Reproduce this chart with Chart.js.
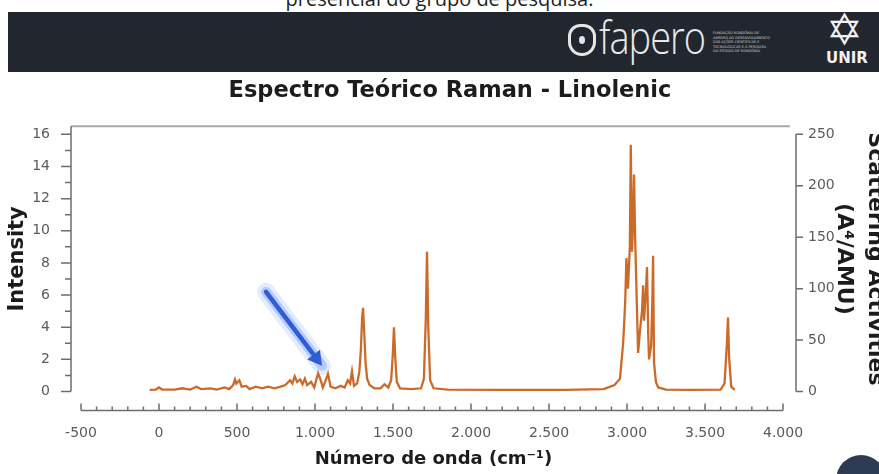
<!DOCTYPE html>
<html>
<head>
<meta charset="utf-8">
<script src="https://cdn.jsdelivr.net/npm/chart.js@4.4.1/dist/chart.umd.min.js"></script>
<style>
  html, body { margin:0; padding:0; width:879px; height:474px; overflow:hidden; background:#ffffff; }
  #caption { position:absolute; top:-11px; left:0; width:879px; text-align:center; font-family:"Open Sans", sans-serif; font-size:20px; line-height:20px; color:#222; }
  #bar { position:absolute; top:12px; left:8px; width:871px; height:60px; background:#22272f; }
  #fapIcon { position:absolute; left:568px; top:24px; width:28px; height:32px; border:3px solid #e6e6e6; border-radius:14px 14px 16px 16px; box-sizing:border-box; }
  #fapIcon::after { content:""; position:absolute; left:8px; top:9px; width:6px; height:8px; background:#e6e6e6; border-radius:50%; }
  #fapText { position:absolute; left:599px; top:14px; font-family:"Open Sans", sans-serif; font-weight:300; font-size:38px; line-height:44px; color:#e8e8e8; letter-spacing:-1px; transform:scaleY(1.2); transform-origin:0 50%; }
  #fapSmall { position:absolute; left:713px; top:31px; width:58px; font-family:"DejaVu Sans", sans-serif; font-size:3.5px; line-height:4.5px; color:#cfcfcf; }
  #unirStar { position:absolute; left:826px; top:8px; font-family:"DejaVu Sans", sans-serif; font-size:44px; line-height:44px; color:#f2f2f2; }
  #unirText { position:absolute; left:826px; top:49px; font-family:"DejaVu Sans", sans-serif; font-weight:bold; font-size:15px; line-height:18px; color:#f2f2f2; }
  #blob { position:absolute; left:836px; top:455px; width:50px; height:50px; border-radius:50%; background:#2c3a54; }
  #wrap { position:absolute; top:0; left:0; width:900px; height:474px; }
</style>
</head>
<body>
<div id="caption">presencial do grupo de pesquisa.</div>
<div id="bar"></div>
<div id="fapIcon"></div>
<div id="fapText">fapero</div>
<div id="fapSmall">FUNDAÇÃO RONDÔNIA DE AMPARO AO DESENVOLVIMENTO DAS AÇÕES CIENTÍFICAS E TECNOLÓGICAS E À PESQUISA DO ESTADO DE RONDÔNIA</div>
<div id="unirStar">✡</div>
<div id="unirText">UNIR</div>
<div id="blob"></div>
<div id="wrap"><canvas id="c" width="900" height="474"></canvas></div>
<script>
// ---- data ----
const wavenumbers = [
  -60, -20, 0, 20, 100, 150, 200, 240, 270, 330, 370, 420, 450, 475, 487, 495, 505, 515, 530, 560,
  580, 620, 660, 700, 740, 780, 810, 840, 855, 870, 885, 905, 920, 935, 950, 975, 995, 1020, 1040, 1050,
  1065, 1083, 1100, 1130, 1165, 1190, 1210, 1225, 1237, 1250, 1270, 1284, 1294, 1302, 1308, 1316, 1324, 1334, 1350, 1380, 1420, 1445,
  1470, 1488, 1498, 1506, 1514, 1524, 1545, 1620, 1680, 1698, 1710, 1718, 1726, 1738, 1760, 1850, 2200, 2600, 2850, 2920,
  2955, 2975, 2988, 2996, 3006, 3018, 3024, 3032, 3040, 3045, 3052, 3058, 3071, 3083, 3096, 3103, 3109, 3122, 3128, 3136,
  3141, 3154, 3162, 3167, 3173, 3185, 3200, 3250, 3400, 3600, 3625, 3640, 3647, 3655, 3668, 3690
];
const intensities = [
  0.10, 0.12, 0.25, 0.12, 0.12, 0.20, 0.12, 0.30, 0.15, 0.20, 0.12, 0.25, 0.15, 0.40, 0.75, 0.50, 0.60, 0.70, 0.30, 0.35,
  0.15, 0.30, 0.20, 0.30, 0.20, 0.30, 0.40, 0.70, 0.50, 0.95, 0.60, 0.75, 0.45, 0.80, 0.40, 0.60, 0.25, 1.15, 0.60, 0.25,
  0.60, 1.10, 0.30, 0.20, 0.35, 0.25, 0.70, 0.50, 1.25, 0.35, 0.50, 1.20, 2.60, 4.60, 5.20, 3.60, 1.80, 0.80, 0.40, 0.20, 0.20, 0.45,
  0.25, 0.70, 2.20, 4.00, 2.20, 0.60, 0.20, 0.15, 0.20, 0.80, 4.50, 8.70, 4.00, 0.70, 0.20, 0.12, 0.10, 0.10, 0.15, 0.40,
  0.80, 3.00, 5.50, 8.30, 6.40, 9.00, 15.35, 8.70, 11.0, 13.50, 9.50, 7.30, 2.40, 3.80, 5.00, 6.60, 4.40, 6.50, 7.75, 3.50,
  2.00, 2.80, 5.50, 8.45, 1.80, 0.60, 0.25, 0.12, 0.10, 0.12, 0.50, 3.00, 4.60, 2.00, 0.30, 0.10
];
const xTickValues = [-500, 0, 500, 1000, 1500, 2000, 2500, 3000, 3500, 4000];
const xMinorTickValues = [];
for (let v = -500; v <= 4000; v += 100) xMinorTickValues.push(v);
const yTickValues = [0, 2, 4, 6, 8, 10, 12, 14, 16];
const yMinorTickValues = [1, 3, 5, 7, 9, 11, 13, 15];
const y2TickValues = [0, 50, 100, 150, 200, 250];
const arrowFrom = [686, 6.2];
const arrowTo = [1045, 1.6];

const fmt = v => {
  const s = Math.abs(v).toString();
  const body = s.length > 3 ? s.slice(0, s.length - 3) + '.' + s.slice(s.length - 3) : s;
  return (v < 0 ? '-' : '') + body;
};

const axisColor = '#6e6e6e';
const tickFont = { family: 'DejaVu Sans', size: 14 };
const tickColor = '#5a5a60';

const axesPlugin = {
  id: 'customAxes',
  afterDraw(chart) {
    const { ctx, chartArea, scales: { x, y, y2 } } = chart;
    ctx.save();
    // top frame line
    ctx.strokeStyle = '#a8a8a8';
    ctx.lineWidth = 2;
    ctx.beginPath();
    ctx.moveTo(chartArea.left, chartArea.top);
    ctx.lineTo(chartArea.right - 6, chartArea.top);
    ctx.stroke();
    ctx.strokeStyle = axisColor;
    ctx.lineWidth = 1.5;
    // left axis
    const lx = chartArea.left;
    ctx.beginPath();
    ctx.moveTo(lx, chartArea.top);
    ctx.lineTo(lx, y.getPixelForValue(0));
    yTickValues.forEach(v => { const p = y.getPixelForValue(v); ctx.moveTo(lx, p); ctx.lineTo(lx - 10, p); });
    yMinorTickValues.forEach(v => { const p = y.getPixelForValue(v); ctx.moveTo(lx, p); ctx.lineTo(lx - 6, p); });
    ctx.stroke();
    // right axis
    const rx = chartArea.right;
    ctx.beginPath();
    ctx.moveTo(rx, y2.getPixelForValue(250));
    ctx.lineTo(rx, y2.getPixelForValue(0));
    y2TickValues.forEach(v => { const p = y2.getPixelForValue(v); ctx.moveTo(rx, p); ctx.lineTo(rx + 7, p); });
    ctx.stroke();
    // bottom (offset) axis
    const by = chartArea.bottom + 19;
    ctx.beginPath();
    ctx.moveTo(x.getPixelForValue(-500), by);
    ctx.lineTo(x.getPixelForValue(4000), by);
    xMinorTickValues.forEach(v => {
      const p = x.getPixelForValue(v);
      const len = (v % 500 === 0) ? 7 : 4;
      ctx.moveTo(p, by); ctx.lineTo(p, by - len);
    });
    ctx.stroke();
    ctx.restore();
  }
};

const arrowPlugin = {
  id: 'arrow',
  afterDatasetsDraw(chart) {
    const { ctx, scales: { x, y } } = chart;
    const x0 = x.getPixelForValue(arrowFrom[0]), y0 = y.getPixelForValue(arrowFrom[1]);
    const x1 = x.getPixelForValue(arrowTo[0]), y1 = y.getPixelForValue(arrowTo[1]);
    const ang = Math.atan2(y1 - y0, x1 - x0);
    const headLen = 14, headW = 8;
    const bx = x1 - headLen * Math.cos(ang), byy = y1 - headLen * Math.sin(ang);
    ctx.save();
    ctx.lineCap = 'round';
    ctx.strokeStyle = 'rgba(140,175,255,0.25)';
    ctx.lineWidth = 18;
    ctx.beginPath(); ctx.moveTo(x0, y0); ctx.lineTo(x1, y1); ctx.stroke();
    ctx.strokeStyle = 'rgba(110,150,250,0.40)';
    ctx.lineWidth = 10;
    ctx.beginPath(); ctx.moveTo(x0, y0); ctx.lineTo(x1, y1); ctx.stroke();
    ctx.strokeStyle = '#2d5fd3';
    ctx.lineWidth = 4.5;
    ctx.beginPath(); ctx.moveTo(x0, y0); ctx.lineTo(bx, byy); ctx.stroke();
    ctx.fillStyle = '#2d5fd3';
    ctx.beginPath();
    ctx.moveTo(x1, y1);
    ctx.lineTo(bx + headW * Math.sin(ang), byy - headW * Math.cos(ang));
    ctx.lineTo(bx - headW * Math.sin(ang), byy + headW * Math.cos(ang));
    ctx.closePath();
    ctx.fill();
    ctx.restore();
  }
};

const setTicks = (vals) => (scale) => { scale.ticks = vals.map(v => ({ value: v })); };

new Chart(document.getElementById('c'), {
  type: 'line',
  data: {
    datasets: [{
      data: wavenumbers.map((w, i) => ({ x: w, y: intensities[i] })),
      borderColor: '#cc6a2a',
      borderWidth: 2.3,
      pointRadius: 0,
      tension: 0,
      fill: false,
      yAxisID: 'y'
    }]
  },
  options: {
    responsive: false,
    animation: false,
    devicePixelRatio: 1,
    layout: { padding: { top: 77.8, left: 0, right: 0, bottom: 0 } },
    plugins: {
      legend: { display: false },
      tooltip: { enabled: false },
      title: {
        display: true,
        text: 'Espectro Teórico Raman - Linolenic',
        font: { family: 'DejaVu Sans', size: 22.5, weight: 'bold' },
        color: '#1c1c1c',
        padding: { top: 0, bottom: 21.5 }
      }
    },
    scales: {
      x: {
        type: 'linear', min: -564, max: 4083,
        grid: { display: false, drawTicks: false },
        border: { display: false },
        afterBuildTicks: setTicks(xTickValues),
        afterFit: s => { s.height = 82.5; },
        ticks: { callback: v => fmt(v), font: tickFont, color: tickColor, padding: 33, maxRotation: 0, autoSkip: false },
        title: { display: true, text: 'Número de onda (cm⁻¹)', font: { family: 'DejaVu Sans', size: 18, weight: 'bold' }, color: '#1c1c1c', padding: { top: 0, bottom: 4 } }
      },
      y: {
        position: 'left', min: 0, max: 16.5,
        grid: { display: false, drawTicks: false },
        border: { display: false },
        afterBuildTicks: setTicks(yTickValues),
        afterFit: s => { s.width = 71; },
        ticks: { font: tickFont, color: tickColor, padding: 21 },
        title: { display: true, text: 'Intensity', font: { family: 'DejaVu Sans', size: 21, weight: 'bold' }, color: '#1c1c1c', padding: { top: 5, bottom: 0 } }
      },
      y2: {
        position: 'right', min: 0, max: 257.8,
        grid: { display: false, drawTicks: false },
        border: { display: false },
        afterBuildTicks: setTicks(y2TickValues),
        afterFit: s => { s.width = 104; },
        ticks: { font: tickFont, color: tickColor, padding: 12 },
        title: { display: true, text: ['Scattering Activities', '(A⁴/AMU)'], font: { family: 'DejaVu Sans', size: 22, weight: 'bold', lineHeight: 1.4 }, color: '#1c1c1c', padding: { top: 10, bottom: 0 } }
      }
    }
  },
  plugins: [axesPlugin, arrowPlugin]
});
</script>
</body>
</html>
